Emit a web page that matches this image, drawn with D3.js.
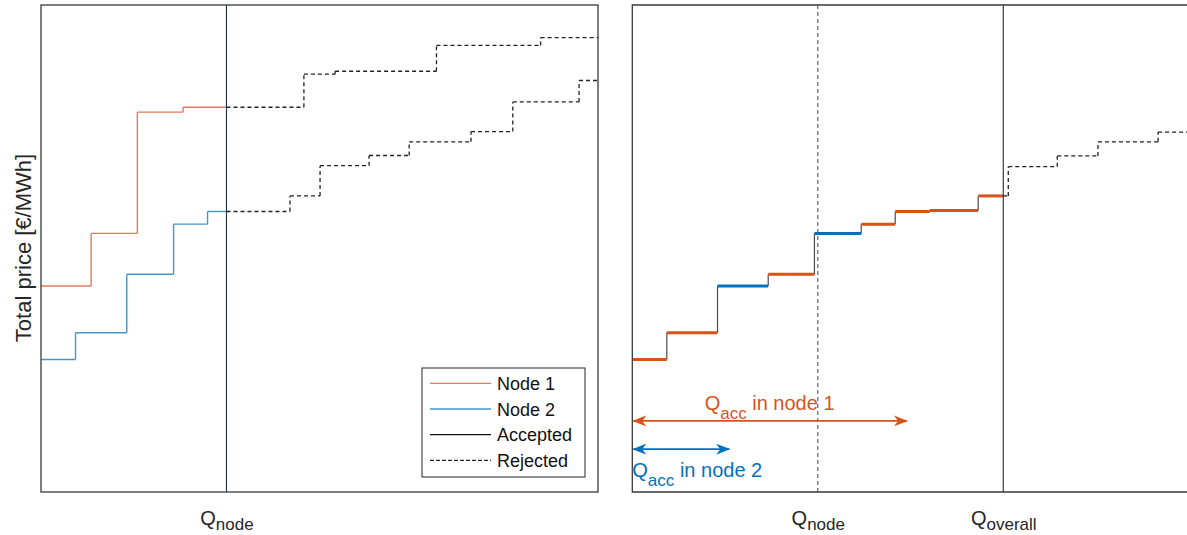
<!DOCTYPE html>
<html>
<head>
<meta charset="utf-8">
<script src="https://cdn.jsdelivr.net/npm/d3@7"></script>
<style>
  body { margin: 0; background: #fff; }
  svg { display: block; font-family: "Liberation Sans", Arial, sans-serif; }
</style>
</head>
<body>
<div id="chart"></div>
<script>
// quantity 0..100 on x, total price 0..100 on y (schematic units)
var qNode = 33.3;
var qOverall = 66.6;

// left panel: bid curves per node, step i runs breaks[i] -> breaks[i+1] at prices[i]
var node1Breaks = [0, 9.0, 17.3, 25.5, 47.2, 52.8, 71.0, 89.7, 100];
var node1Prices = [42.3, 53.1, 78.0, 79.0, 85.8, 86.4, 91.7, 93.3];
var node2Breaks = [0, 6.2, 15.4, 23.8, 29.9, 44.7, 50.1, 58.9, 66.1, 77.2, 84.7, 96.6, 100];
var node2Prices = [27.2, 32.7, 44.7, 55.0, 57.6, 60.8, 67.0, 69.1, 71.9, 74.0, 80.1, 84.5];

// right panel: merged curve and the node each step is coloured with
var meritBreaks = [0, 6.2, 15.3, 24.4, 32.7, 41.1, 47.2, 53.4, 62.1, 67.5, 76.3, 83.6, 94.4, 100];
var meritPrices = [27.2, 32.7, 42.3, 44.7, 53.1, 55.0, 57.6, 57.8, 60.8, 66.8, 69.0, 71.9, 73.9];
var meritNode   = [1, 1, 2, 1, 2, 1, 1, 1, 1, 1, 1, 1, 1];

// accepted quantity per node (arrows)
var qAcc1 = 49.3;
var qAcc2 = 17.4;

var legendLabels = ["Node 1", "Node 2", "Accepted", "Rejected"];
var leftTicks = [{ q: qNode, sub: "node" }];
var rightTicks = [{ q: qNode, sub: "node" }, { q: qOverall, sub: "overall" }];

var W = 1187, H = 535;
var pw = 557, ph = 487;
var thinCol = { 1: "#e07a5c", 2: "#4396c8" };
var thickCol = { 1: "#d95319", 2: "#0072bd" };
var font = "\"Liberation Sans\", Arial, sans-serif";

var svg = d3.select("#chart").append("svg")
  .attr("width", W).attr("height", H);

var x = d3.scaleLinear().domain([0, 100]).range([0, pw]);
var y = d3.scaleLinear().domain([0, 100]).range([ph, 0]);

var left = svg.append("g").attr("transform", "translate(41,5)");
var right = svg.append("g").attr("transform", "translate(632.3,5)");

// split a step curve into horizontal/vertical pieces, accepted before cut
function segments(breaks, prices, cut) {
  var out = [];
  prices.forEach(function (p, i) {
    var a = breaks[i], b = breaks[i + 1];
    if (i > 0) out.push({ x1: a, x2: a, y1: prices[i - 1], y2: p, acc: a < cut, vert: true, i: i });
    if (b <= cut) out.push({ x1: a, x2: b, y1: p, y2: p, acc: true, i: i });
    else if (a >= cut) out.push({ x1: a, x2: b, y1: p, y2: p, acc: false, i: i });
    else {
      out.push({ x1: a, x2: cut, y1: p, y2: p, acc: true, i: i });
      out.push({ x1: cut, x2: b, y1: p, y2: p, acc: false, i: i });
    }
  });
  return out;
}

function drawSegs(g, data, stroke, width, dash) {
  g.append("g").selectAll("line")
    .data(data)
    .enter()
    .append("line")
    .attr("x1", function (d) { return x(d.x1); })
    .attr("x2", function (d) { return x(d.x2); })
    .attr("y1", function (d) { return y(d.y1); })
    .attr("y2", function (d) { return y(d.y2); })
    .attr("stroke", stroke)
    .attr("stroke-width", width)
    .attr("stroke-dasharray", dash || null)
    .attr("fill", "none");
}

function qLabels(g, ticks) {
  var ax = g.append("g")
    .attr("transform", "translate(0," + ph + ")")
    .call(d3.axisBottom(x).tickValues(ticks.map(function (d) { return d.q; }))
      .tickSize(0).tickFormat(""));
  ax.select(".domain").remove();
  ax.selectAll(".tick text").each(function (d, i) {
    var t = d3.select(this)
      .attr("y", 33).attr("dy", 0)
      .attr("fill", "#262626")
      .attr("font-family", font)
      .attr("text-anchor", "middle");
    t.append("tspan").attr("font-size", 20).text("Q");
    t.append("tspan").attr("font-size", 17).attr("dy", 5).text(ticks[i].sub);
  });
}

// ---------- left panel ----------
var n1 = segments(node1Breaks, node1Prices, qNode);
var n2 = segments(node2Breaks, node2Prices, qNode);
drawSegs(left, n1.filter(function (d) { return !d.acc; }), "#222", 1.3, "4,3");
drawSegs(left, n2.filter(function (d) { return !d.acc; }), "#222", 1.3, "4,3");
drawSegs(left, n1.filter(function (d) { return d.acc; }), thinCol[1], 1.4);
drawSegs(left, n2.filter(function (d) { return d.acc; }), thinCol[2], 1.4);

left.append("line")
  .attr("x1", x(qNode)).attr("x2", x(qNode))
  .attr("y1", 0).attr("y2", ph)
  .attr("stroke", "#1d2b3a").attr("stroke-width", 1.1);

left.append("rect")
  .attr("width", pw).attr("height", ph)
  .attr("fill", "none").attr("stroke", "#3a3a3a").attr("stroke-width", 1.3);

qLabels(left, leftTicks);

// legend
var lg = svg.append("g").attr("transform", "translate(422,368)");
lg.append("rect").attr("width", 163).attr("height", 109)
  .attr("fill", "#fff").attr("stroke", "#3a3a3a").attr("stroke-width", 1.1);
var legStyle = [
  { c: thinCol[1], dash: null }, { c: thinCol[2], dash: null },
  { c: "#111", dash: null }, { c: "#222", dash: "4,2" }
];
legendLabels.forEach(function (lab, i) {
  var yy = 15.3 + i * 25.7;
  lg.append("line").attr("x1", 8).attr("x2", 69).attr("y1", yy).attr("y2", yy)
    .attr("stroke", legStyle[i].c).attr("stroke-width", 1.3)
    .attr("stroke-dasharray", legStyle[i].dash);
  lg.append("text").attr("x", 75).attr("y", yy + 6.5)
    .attr("font-size", 18).attr("fill", "#111").text(lab);
});

// y label
svg.append("text")
  .attr("transform", "translate(31,248) rotate(-90)")
  .attr("text-anchor", "middle")
  .attr("font-size", 22)
  .attr("fill", "#262626")
  .text("Total price [€/MWh]");

// ---------- right panel ----------
var m = segments(meritBreaks, meritPrices, qOverall);
drawSegs(right, m.filter(function (d) { return !d.acc; }), "#222", 1.3, "4,3");
drawSegs(right, m.filter(function (d) { return d.acc && d.vert; }), "#4a4a4a", 1.2);
[1, 2].forEach(function (k) {
  drawSegs(right, m.filter(function (d) { return d.acc && !d.vert && meritNode[d.i] === k; }),
    thickCol[k], 3);
});

right.append("line")
  .attr("x1", x(qNode)).attr("x2", x(qNode))
  .attr("y1", 0).attr("y2", ph)
  .attr("stroke", "#555").attr("stroke-width", 1.1).attr("stroke-dasharray", "4,3");
right.append("line")
  .attr("x1", x(qOverall)).attr("x2", x(qOverall))
  .attr("y1", 0).attr("y2", ph)
  .attr("stroke", "#1d2b3a").attr("stroke-width", 1.1);

right.append("path")
  .attr("d", "M" + (pw + 10) + ",0H0V" + ph + "H" + (pw + 10))
  .attr("fill", "none").attr("stroke", "#3a3a3a").attr("stroke-width", 1.3);

qLabels(right, rightTicks);

// arrows
var defs = svg.append("defs");
[1, 2].forEach(function (k) {
  defs.append("marker")
    .attr("id", "ah" + k)
    .attr("viewBox", "0 -6 14 12")
    .attr("refX", 13).attr("refY", 0)
    .attr("markerUnits", "userSpaceOnUse")
    .attr("markerWidth", 14).attr("markerHeight", 12)
    .attr("orient", "auto-start-reverse")
    .append("path")
    .attr("d", "M14,0L0,-5.5L4,0L0,5.5Z")
    .attr("fill", thickCol[k]);
});

var arrows = [
  { q: qAcc1, p: 14.6, k: 1 },
  { q: qAcc2, p: 8.8, k: 2 }
];
right.selectAll(".arrow")
  .data(arrows)
  .enter()
  .append("line")
  .attr("class", "arrow")
  .attr("x1", x(0) + 1).attr("x2", function (d) { return x(d.q); })
  .attr("y1", function (d) { return y(d.p); })
  .attr("y2", function (d) { return y(d.p); })
  .attr("stroke", function (d) { return thickCol[d.k]; })
  .attr("stroke-width", 1.6)
  .attr("marker-start", function (d) { return "url(#ah" + d.k + ")"; })
  .attr("marker-end", function (d) { return "url(#ah" + d.k + ")"; });

function accLabel(tx, ty, anchor, k, rest) {
  var t = right.append("text")
    .attr("x", tx).attr("y", ty)
    .attr("text-anchor", anchor)
    .attr("fill", thickCol[k]);
  t.append("tspan").attr("font-size", 20).text("Q");
  t.append("tspan").attr("font-size", 17).attr("dy", 9).text("acc");
  t.append("tspan").attr("font-size", 20).attr("dy", -9).text(" " + rest);
}
accLabel(x(qAcc1 / 2), y(14.6) - 11, "middle", 1, "in node 1");
accLabel(x(0), y(8.8) + 27.5, "start", 2, "in node 2");
</script>
</body>
</html>
